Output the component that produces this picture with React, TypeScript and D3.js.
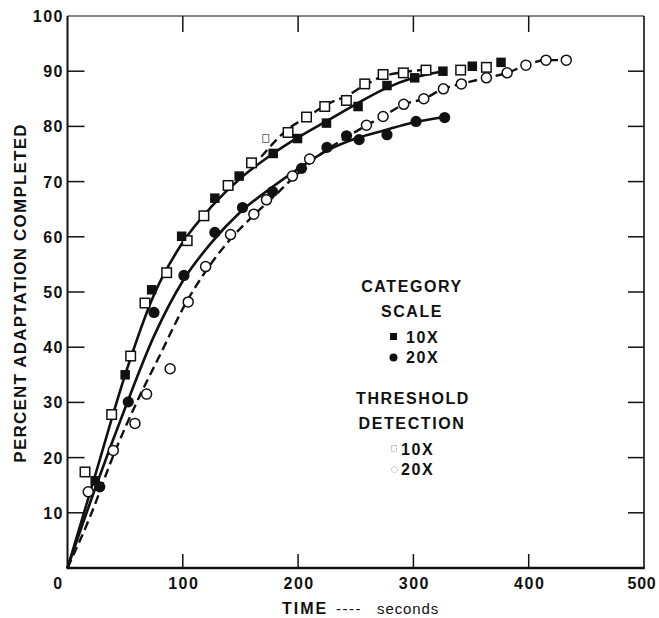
import React from "react";
import * as d3 from "d3";

// ---- data (time in seconds, percent adaptation completed) ----
const cat10Points: [number, number][] = [
  [24, 15.8], [50, 35], [73, 50.4], [99, 60.1], [127.8, 67.0], [148.9, 71.0], [178.4, 75.1],
  [199.5, 77.8], [224.6, 80.6], [252, 83.6], [277.1, 87.4], [301.1, 88.8], [325.6, 90.0],
  [351.1, 90.9], [376, 91.6],
];
const cat20Points: [number, number][] = [
  [28, 14.7], [52.7, 30.1], [75, 46.3], [101, 53], [127.8, 60.8], [151.8, 65.3], [177.8, 68.2],
  [203, 72.4], [225, 76.2], [242, 78.3], [252.9, 77.6], [277.1, 78.5], [302.3, 80.9], [327.1, 81.6],
];
const thr10Points: [number, number][] = [
  [15.2, 17.4], [38.3, 27.8], [54.8, 38.4], [67.2, 48], [86, 53.5], [103.8, 59.3], [118.3, 63.8],
  [139.3, 69.3], [159.6, 73.4], [191.3, 78.9], [207.3, 81.7], [223.1, 83.6], [241.9, 84.7],
  [257.8, 87.7], [273.7, 89.4], [291.3, 89.7], [310.9, 90.2], [341, 90.2], [363.3, 90.7],
];
const thr10FaintPoints: [number, number][] = [[172, 77.8]];
const thr20Points: [number, number][] = [
  [18, 13.8], [39.7, 21.3], [58.5, 26.2], [68.6, 31.5], [89, 36.1], [104.7, 48.2], [119.8, 54.6],
  [141.4, 60.4], [161.6, 64.1], [172.6, 66.7], [195.1, 71.0], [210, 74.1], [259.3, 80.2],
  [273.7, 81.8], [291.6, 84.0], [309, 85.0], [326, 86.8], [341.6, 87.7], [363.3, 88.8],
  [381.3, 89.7], [397.6, 91.1], [415, 92], [432.6, 92],
];

// fitted curves drawn through the reference
const cat10Fit: [number, number][] = [
  [0, 0], [25, 17.5], [50, 35], [75, 49.5], [100, 59], [125, 65.5], [150, 70.6], [175, 74.6],
  [200, 78], [225, 81], [250, 84], [275, 86.8], [300, 88.8], [326, 90],
];
const thr10Fit: [number, number][] = [
  [168, 74.5], [190, 79.3], [210, 82], [225, 84], [242, 85.5], [258, 87.5], [274, 89.1],
  [291, 89.8], [311, 90.3],
];
const cat20Fit: [number, number][] = [
  [0, 0], [25, 15], [50, 29], [75, 42], [100, 52], [125, 59], [150, 64.5], [175, 68.6],
  [200, 72.3], [225, 75.6], [250, 77.8], [275, 79.3], [300, 80.7], [327, 81.7],
];
const thr20Fit: [number, number][] = [
  [0, 0], [20, 9.5], [40, 20.5], [60, 30], [80, 38.5], [104, 48.5], [120, 53.8], [141, 59.5],
  [162, 64], [180, 67.5], [200, 71.5], [225, 75.8], [242, 78], [259.3, 80.2], [273.7, 81.8],
  [291.6, 84], [309, 85], [326, 86.8], [341.6, 87.7], [363.3, 88.8], [381.3, 89.7],
  [397.6, 91.1], [415, 92], [432.6, 92],
];

const xTicks = [0, 100, 200, 300, 400, 500];
const yTicks = [10, 20, 30, 40, 50, 60, 70, 80, 90, 100];
const innerXTicks = [100, 200, 300, 400];
const innerYTicks = [10, 20, 30, 40, 50, 60, 70, 80, 90];

const yLabel = "PERCENT ADAPTATION COMPLETED";
const xLabelBold = "TIME";
const xLabelDash = "----";
const xLabelUnit = "seconds";
const legendTitle1 = ["CATEGORY", "SCALE"];
const legendTitle2 = ["THRESHOLD", "DETECTION"];
const legendItems = ["10X", "20X"];

const W = 659;
const H = 618;
const FONT = "'Liberation Sans', Arial, Helvetica, sans-serif";
const INK = "#111";

export default function App() {
  const x = d3.scaleLinear().domain([0, 500]).range([67.5, 644]);
  const y = d3.scaleLinear().domain([0, 100]).range([568, 16]);
  const line = d3
    .line<[number, number]>()
    .x((d) => x(d[0]))
    .y((d) => y(d[1]))
    .curve(d3.curveMonotoneX);

  const sq = 9.5;
  const rc = 5;

  return (
    <svg
      width={W}
      height={H}
      style={{ position: "absolute", left: 0, top: 0, background: "#fff" }}
      fontFamily={FONT}
    >
      <rect width={W} height={H} fill="#fff" />
      {/* frame */}
      <line x1={x(0)} x2={x(500)} y1={y(100)} y2={y(100)} stroke={INK} strokeWidth={1.2} />
      <line x1={x(500)} x2={x(500)} y1={y(100)} y2={y(0)} stroke={INK} strokeWidth={1.6} />
      <line x1={x(0)} x2={x(0)} y1={y(100)} y2={y(0)} stroke={INK} strokeWidth={2} />
      <line x1={x(0) - 1} x2={x(500) + 0.8} y1={y(0)} y2={y(0)} stroke={INK} strokeWidth={2.6} />

      {/* ticks */}
      {innerYTicks.map((t) => (
        <g key={"yt" + t}>
          <line x1={x(0)} x2={x(0) + 17} y1={y(t)} y2={y(t)} stroke={INK} strokeWidth={1.5} />
          <line x1={x(500) - 16} x2={x(500)} y1={y(t)} y2={y(t)} stroke={INK} strokeWidth={1.5} />
        </g>
      ))}
      {innerXTicks.map((t) => (
        <g key={"xt" + t}>
          <line x1={x(t)} x2={x(t)} y1={y(100)} y2={y(100) + 16} stroke={INK} strokeWidth={1.5} />
          <line x1={x(t)} x2={x(t)} y1={y(0)} y2={y(0) - 14} stroke={INK} strokeWidth={1.5} />
        </g>
      ))}

      {/* tick labels */}
      {yTicks.map((t) => (
        <text
          key={"yl" + t}
          x={x(0) - 3.5}
          y={y(t) + 6}
          textAnchor="end"
          fontSize={16}
          fontWeight="bold"
          letterSpacing={1.5}
          fill={INK}
        >
          {t}
        </text>
      ))}
      {xTicks.map((t) => (
        <text
          key={"xl" + t}
          x={t === 0 ? x(t) - 9 : t === 500 ? x(t) - 2 : x(t) + 1}
          y={589}
          textAnchor="middle"
          fontSize={16}
          fontWeight="bold"
          letterSpacing={t === 500 ? 0.8 : 1.5}
          fill={INK}
        >
          {t}
        </text>
      ))}

      {/* axis titles */}
      <text
        transform="translate(26,293) rotate(-90)"
        textAnchor="middle"
        fontSize={17}
        fontWeight="bold"
        letterSpacing={1.2}
        fill={INK}
      >
        {yLabel}
      </text>
      <text y={614} fill={INK}>
        <tspan x={282} fontSize={16} fontWeight="bold" letterSpacing={2}>
          {xLabelBold}
        </tspan>
        <tspan x={336} fontSize={15} letterSpacing={1.5}>
          {xLabelDash}
        </tspan>
        <tspan x={377} fontSize={15} letterSpacing={0.9}>
          {xLabelUnit}
        </tspan>
      </text>

      {/* curves */}
      <path d={line(cat10Fit) || ""} fill="none" stroke={INK} strokeWidth={2.6} />
      <path d={line(cat20Fit) || ""} fill="none" stroke={INK} strokeWidth={2.6} />
      <path
        d={line(thr10Fit) || ""}
        fill="none"
        stroke={INK}
        strokeWidth={2.4}
        strokeDasharray="9,5"
      />
      <path
        d={line(thr20Fit) || ""}
        fill="none"
        stroke={INK}
        strokeWidth={2.4}
        strokeDasharray="9,5"
      />

      {/* markers */}
      {thr10Points.map((d, i) => (
        <rect
          key={"t10" + i}
          x={x(d[0]) - sq / 2}
          y={y(d[1]) - sq / 2}
          width={sq}
          height={sq}
          fill="#fff"
          stroke={INK}
          strokeWidth={1.5}
        />
      ))}
      {thr10FaintPoints.map((d, i) => (
        <rect
          key={"t10f" + i}
          x={x(d[0]) - 3}
          y={y(d[1]) - 4}
          width={6}
          height={8}
          fill="none"
          stroke="#666"
          strokeWidth={0.9}
        />
      ))}
      {thr20Points.map((d, i) => (
        <circle
          key={"t20" + i}
          cx={x(d[0])}
          cy={y(d[1])}
          r={rc}
          fill="#fff"
          stroke={INK}
          strokeWidth={1.5}
        />
      ))}
      {cat10Points.map((d, i) => (
        <rect
          key={"c10" + i}
          x={x(d[0]) - sq / 2}
          y={y(d[1]) - sq / 2}
          width={sq}
          height={sq}
          fill={INK}
        />
      ))}
      {cat20Points.map((d, i) => (
        <circle key={"c20" + i} cx={x(d[0])} cy={y(d[1])} r={5.6} fill={INK} />
      ))}

      {/* legend */}
      <g fontWeight="bold" fontSize={16} letterSpacing={1.6} fill={INK}>
        <text x={412} y={292} textAnchor="middle">{legendTitle1[0]}</text>
        <text x={412} y={317} textAnchor="middle">{legendTitle1[1]}</text>
        <rect x={390} y={333} width={7} height={7} fill={INK} />
        <text x={406} y={343}>{legendItems[0]}</text>
        <circle cx={393.5} cy={357.5} r={4} fill={INK} />
        <text x={406} y={363}>{legendItems[1]}</text>
        <text x={413} y={404} textAnchor="middle">{legendTitle2[0]}</text>
        <text x={412} y={429} textAnchor="middle">{legendTitle2[1]}</text>
        <rect x={391.5} y={445.5} width={5} height={6} fill="none" stroke="#999" strokeWidth={0.8} strokeDasharray="1.5,1" />
        <text x={401} y={455}>{legendItems[0]}</text>
        <circle cx={394.5} cy={469.5} r={3} fill="none" stroke="#999" strokeWidth={0.8} strokeDasharray="1.5,1" />
        <text x={401} y={475}>{legendItems[1]}</text>
      </g>
    </svg>
  );
}
